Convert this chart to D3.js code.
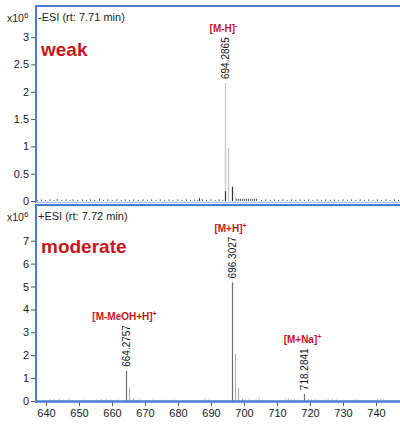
<!DOCTYPE html>
<html lang="en">
<head>
<meta charset="UTF-8">
<title>ESI spectra</title>
<script src="https://cdn.jsdelivr.net/npm/d3@7/dist/d3.min.js"></script>
<style>
    body { margin: 0; background: #fff; }
    text { font-family: "Liberation Sans", Arial, sans-serif; }
</style>
</head>
<body>
<svg id="chart" width="400" height="424"></svg>
<script>
    // x axis (m/z)
    let mzTicks = [640, 650, 660, 670, 680, 690, 700, 710, 720, 730, 740];
    let negTicks = [0, 0.5, 1, 1.5, 2, 2.5, 3];
    let posTicks = [0, 1, 2, 3, 4, 5, 6, 7];

    // -ESI (weak), intensities in x10^6
    let negPeakMz = [694.29, 695.29, 696.30, 697.30];
    let negPeakInt = [2.16, 0.97, 0.26, 0.06];
    let negDarkMz = [694.29, 696.30, 686.5];
    let negDarkInt = [0.18, 0.26, 0.05];
    let negNoiseMz = [637.5, 638.6, 639.8, 641.2, 642.5, 643.4, 644.8, 646.1, 647.3, 648.2, 649.6, 651.0, 652.3, 653.5,
        654.8, 656.2, 657.4, 658.7, 660.1, 661.5, 662.8, 664.0, 665.3, 666.6, 668.0, 669.4, 670.7, 672.0, 673.4, 674.6,
        676.0, 677.3, 678.5, 679.9, 681.2, 682.6, 683.8, 685.1, 686.0, 687.4, 688.6, 690.0, 691.3, 692.5, 693.6,
        697.8, 698.4, 699.0, 699.6, 700.2, 700.8, 701.4, 702.0, 702.6, 703.2, 703.8,
        705.3, 706.6, 708.0, 709.2, 710.5, 711.8, 713.1, 714.4, 715.7, 717.0, 718.3, 719.6, 720.9, 722.2, 723.5,
        724.8, 726.1, 727.4, 728.7, 730.0, 731.3, 732.6, 733.9, 735.2, 736.5, 737.8, 739.1, 740.4, 741.7, 743.0,
        744.3, 745.6, 746.8];
    let negNoiseInt = [0.02, 0.03, 0.02, 0.03, 0.02, 0.04, 0.02, 0.03, 0.02, 0.03, 0.02, 0.03, 0.02, 0.03,
        0.02, 0.04, 0.02, 0.03, 0.02, 0.03, 0.02, 0.03, 0.02, 0.03, 0.02, 0.03, 0.02, 0.03, 0.02, 0.03,
        0.02, 0.03, 0.02, 0.03, 0.02, 0.03, 0.02, 0.03, 0.02, 0.03, 0.02, 0.03, 0.02, 0.03, 0.02,
        0.04, 0.04, 0.04, 0.04, 0.04, 0.04, 0.04, 0.04, 0.04, 0.04, 0.04,
        0.02, 0.03, 0.02, 0.03, 0.02, 0.03, 0.02, 0.03, 0.02, 0.03, 0.02, 0.03, 0.02, 0.03, 0.02,
        0.03, 0.02, 0.03, 0.02, 0.03, 0.02, 0.03, 0.02, 0.03, 0.02, 0.03, 0.02, 0.03, 0.02, 0.03,
        0.02, 0.03, 0.02];
    let negLabelMz = [694.29];
    let negLabelText = ["694.2865"];
    let negIonText = ["[M-H]"];
    let negIonCharge = ["-"];

    // +ESI (moderate), intensities in x10^6
    let posPeakMz = [664.28, 665.28, 666.28, 667.28, 696.30, 697.30, 698.31, 699.31, 718.28, 719.29];
    let posPeakInt = [1.32, 0.58, 0.12, 0.05, 5.18, 2.05, 0.58, 0.12, 0.30, 0.08];
    let posNoiseMz = [641.2, 642.5, 644.0, 645.3, 647.0, 648.2, 651.5, 655.4, 656.8, 658.3, 659.6, 662.0,
        668.3, 670.2, 672.4, 675.1, 679.0, 683.6, 688.2, 689.4, 692.0, 700.4, 701.5, 703.6, 704.5, 705.6,
        707.8, 712.6, 713.5, 714.4, 715.3, 716.3, 720.4, 721.6, 724.3, 725.5, 726.8, 728.0, 733.6, 734.5,
        740.5, 741.4, 742.3];
    let posNoiseInt = [0.10, 0.08, 0.12, 0.07, 0.10, 0.06, 0.08, 0.08, 0.12, 0.10, 0.08, 0.08,
        0.10, 0.06, 0.08, 0.07, 0.08, 0.06, 0.10, 0.08, 0.06, 0.08, 0.12, 0.10, 0.14, 0.08,
        0.06, 0.10, 0.12, 0.10, 0.12, 0.08, 0.12, 0.10, 0.08, 0.10, 0.12, 0.08, 0.10, 0.08,
        0.10, 0.12, 0.08];
    let posLabelMz = [664.28, 696.30, 718.28];
    let posLabelText = ["664.2757", "696.3027", "718.2841"];
    let posIonText = ["[M-MeOH+H]", "[M+H]", "[M+Na]"];
    let posIonCharge = ["+", "+", "+"];

    let blue = "#4a7cd4";
    let red = "#c8141c";

    let svg = d3.select("#chart");
    let x = d3.scaleLinear().domain([636.97, 747.27]).range([36, 400]);

    function panel(opt) {
        let g = svg.append("g");
        let y = d3.scaleLinear().domain([0, opt.yMax]).range([opt.bottom, opt.top]);

        // y axis ticks and labels
        let yAxis = d3.axisLeft(y).tickValues(opt.yTicks).tickSize(4).tickPadding(2)
            .tickFormat(d3.format("~g"));
        let ya = g.append("g").attr("transform", "translate(35,0)").call(yAxis);
        ya.select(".domain").remove();
        ya.selectAll("line").attr("stroke", "#555");
        ya.selectAll("text").attr("font-size", 11).attr("fill", "#1a1a1a")
            .attr("font-family", "Liberation Sans, Arial, sans-serif");

        // noise
        g.selectAll(".noise").data(d3.zip(opt.noiseMz, opt.noiseInt)).enter().append("line")
            .attr("x1", d => x(d[0])).attr("x2", d => x(d[0]))
            .attr("y1", y(0)).attr("y2", d => y(d[1]))
            .attr("stroke", opt.noiseColor).attr("stroke-width", 1);

        // peaks
        g.selectAll(".peak").data(d3.zip(opt.peakMz, opt.peakInt)).enter().append("line")
            .attr("x1", d => Math.round(x(d[0])) + 0.5).attr("x2", d => Math.round(x(d[0])) + 0.5)
            .attr("y1", y(0)).attr("y2", d => y(d[1]))
            .attr("stroke", d => opt.peakColor(d)).attr("stroke-width", 1.2);

        if (opt.darkMz) {
            g.selectAll(".dark").data(d3.zip(opt.darkMz, opt.darkInt)).enter().append("line")
                .attr("x1", d => Math.round(x(d[0])) + 0.5).attr("x2", d => Math.round(x(d[0])) + 0.5)
                .attr("y1", y(0)).attr("y2", d => y(d[1]))
                .attr("stroke", "#333").attr("stroke-width", 1.2);
        }

        // labels
        for (let i = 0; i < opt.labelMz.length; i++) {
            let mz = opt.labelMz[i];
            let k = opt.peakMz.indexOf(mz);
            let px = Math.round(x(mz)) + 0.5;
            let top = y(opt.peakInt[k]) - 4;
            let t = g.append("text")
                .attr("transform", "translate(" + (px + 3.5) + "," + top + ") rotate(-90)")
                .attr("font-size", 10).attr("fill", "#111")
                .text(opt.labelText[i]);
            let w = t.node().getComputedTextLength();
            let ion = g.append("text")
                .attr("x", px - 2).attr("y", top - w - 5)
                .attr("text-anchor", "middle")
                .attr("font-size", 10).attr("font-weight", "bold").attr("fill", red);
            ion.append("tspan").text(opt.ionText[i]);
            ion.append("tspan").attr("font-size", 7).attr("dy", -4).text(opt.ionCharge[i]);
        }

        // frame
        g.append("line").attr("x1", 36).attr("x2", 36).attr("y1", opt.top - 1).attr("y2", opt.bottom + 2)
            .attr("stroke", blue).attr("stroke-width", 2);
        g.append("line").attr("x1", 35).attr("x2", 400).attr("y1", opt.top).attr("y2", opt.top)
            .attr("stroke", blue).attr("stroke-width", 2);

        // texts
        let sc = g.append("text").attr("x", 7).attr("y", opt.top + 16).attr("font-size", 10.5).attr("fill", "#222");
        sc.append("tspan").text("x10");
        sc.append("tspan").attr("font-size", 8).attr("dy", -4).text("6");
        g.append("text").attr("x", 38).attr("y", opt.top + 15).attr("font-size", 11).attr("fill", "#222")
            .text(opt.title);
        g.append("text").attr("x", 41).attr("y", opt.top + opt.tagDy).attr("font-size", 19)
            .attr("font-weight", "bold").attr("fill", red).text(opt.tag);
        return y;
    }

    panel({
        top: 6, bottom: 201, yMax: 3.57, yTicks: negTicks,
        peakMz: negPeakMz, peakInt: negPeakInt, darkMz: negDarkMz, darkInt: negDarkInt,
        noiseMz: negNoiseMz, noiseInt: negNoiseInt, noiseColor: "#555",
        peakColor: d => "#c4c4c4",
        labelMz: negLabelMz, labelText: negLabelText, ionText: negIonText, ionCharge: negIonCharge,
        title: "-ESI (rt: 7.71 min)", tag: "weak", tagDy: 50
    });
    // separator under top panel
    svg.append("line").attr("x1", 36).attr("x2", 400).attr("y1", 202.5).attr("y2", 202.5)
        .attr("stroke", "#9bb8e8").attr("stroke-width", 1.2);

    panel({
        top: 205, bottom: 401, yMax: 8.56, yTicks: posTicks,
        peakMz: posPeakMz, peakInt: posPeakInt,
        noiseMz: posNoiseMz, noiseInt: posNoiseInt, noiseColor: "#c8c8c8",
        peakColor: d => posLabelMz.indexOf(d[0]) >= 0 ? "#6e6e6e" : "#b4b4b4",
        labelMz: posLabelMz, labelText: posLabelText, ionText: posIonText, ionCharge: posIonCharge,
        title: "+ESI (rt: 7.72 min)", tag: "moderate", tagDy: 48
    });

    // m/z axis
    let xAxis = d3.axisBottom(x).tickValues(mzTicks).tickSize(4).tickPadding(3).tickFormat(d3.format("d"));
    let xa = svg.append("g").attr("transform", "translate(0,402)").call(xAxis);
    xa.select(".domain").remove();
    xa.selectAll("line").attr("stroke", "#555");
    xa.selectAll("text").attr("font-size", 11).attr("fill", "#1a1a1a")
        .attr("font-family", "Liberation Sans, Arial, sans-serif");
    svg.append("line").attr("x1", 35).attr("x2", 400).attr("y1", 401.5).attr("y2", 401.5)
        .attr("stroke", blue).attr("stroke-width", 2.5);
</script>
</body>
</html>
